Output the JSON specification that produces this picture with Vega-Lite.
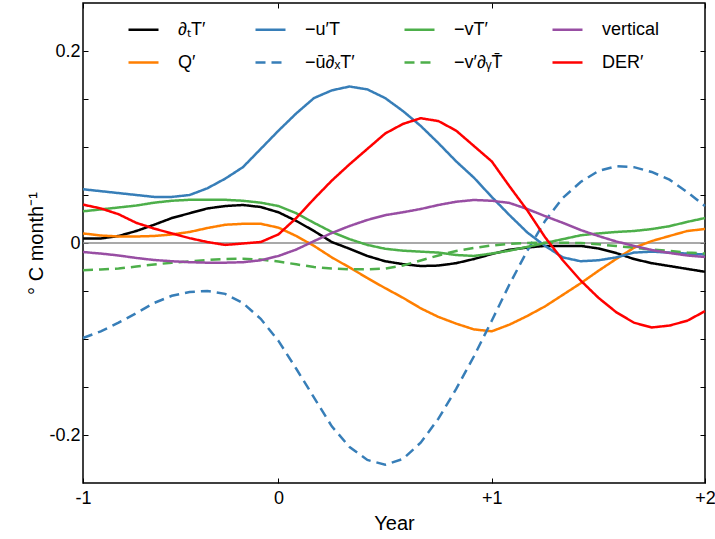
{
  "$schema": "https://vega.github.io/schema/vega-lite/v6.json",
  "width": 622,
  "height": 480,
  "autosize": {"type": "none"},
  "padding": {"left": 83, "top": 3, "right": 10, "bottom": 56},
  "background": "white",
  "config": {
    "font": "Liberation Sans",
    "view": {"stroke": "black", "strokeWidth": 1.5},
    "axis": {
      "domain": false, "grid": false, "tickColor": "black", "tickWidth": 1, "tickSize": -5,
      "labelColor": "black", "titleColor": "black", "labelFontSize": 18, "titleFontSize": 20,
      "titleFontWeight": "normal", "labelFont": "Liberation Sans", "titleFont": "Liberation Sans"
    },
    "legend": {
      "orient": "none", "legendX": 44, "legendY": 10, "columns": 4, "symbolType": "stroke",
      "symbolSize": 900, "symbolStrokeWidth": 2.5, "labelFontSize": 18, "labelFont": "Liberation Sans",
      "labelColor": "black", "labelOffset": 18, "columnPadding": 44, "rowPadding": 7, "padding": 0,
      "title": null, "labelLimit": 200
    }
  },
  "datasets": {
    "main": [
      {"m":-11,"s":"∂ₜT′","v":0.0047},{"m":-10,"s":"∂ₜT′","v":0.0047},{"m":-9,"s":"∂ₜT′","v":0.0073},{"m":-8,"s":"∂ₜT′","v":0.0125},{"m":-7,"s":"∂ₜT′","v":0.019},{"m":-6,"s":"∂ₜT′","v":0.026},{"m":-5,"s":"∂ₜT′","v":0.031},{"m":-4,"s":"∂ₜT′","v":0.036},{"m":-3,"s":"∂ₜT′","v":0.0385},{"m":-2,"s":"∂ₜT′","v":0.0396},{"m":-1,"s":"∂ₜT′","v":0.0375},{"m":0,"s":"∂ₜT′","v":0.032},{"m":1,"s":"∂ₜT′","v":0.023},{"m":2,"s":"∂ₜT′","v":0.0125},{"m":3,"s":"∂ₜT′","v":0.001},{"m":4,"s":"∂ₜT′","v":-0.006},{"m":5,"s":"∂ₜT′","v":-0.0135},{"m":6,"s":"∂ₜT′","v":-0.019},{"m":7,"s":"∂ₜT′","v":-0.022},{"m":8,"s":"∂ₜT′","v":-0.024},{"m":9,"s":"∂ₜT′","v":-0.0235},{"m":10,"s":"∂ₜT′","v":-0.021},{"m":11,"s":"∂ₜT′","v":-0.0167},{"m":12,"s":"∂ₜT′","v":-0.0115},{"m":13,"s":"∂ₜT′","v":-0.007},{"m":14,"s":"∂ₜT′","v":-0.0047},{"m":15,"s":"∂ₜT′","v":-0.003},{"m":16,"s":"∂ₜT′","v":-0.003},{"m":17,"s":"∂ₜT′","v":-0.003},{"m":18,"s":"∂ₜT′","v":-0.0057},{"m":19,"s":"∂ₜT′","v":-0.0104},{"m":20,"s":"∂ₜT′","v":-0.0167},{"m":21,"s":"∂ₜT′","v":-0.021},{"m":22,"s":"∂ₜT′","v":-0.024},{"m":23,"s":"∂ₜT′","v":-0.027},{"m":24,"s":"∂ₜT′","v":-0.03},
      {"m":-11,"s":"Q′","v":0.01},{"m":-10,"s":"Q′","v":0.0078},{"m":-9,"s":"Q′","v":0.0068},{"m":-8,"s":"Q′","v":0.0068},{"m":-7,"s":"Q′","v":0.0073},{"m":-6,"s":"Q′","v":0.0089},{"m":-5,"s":"Q′","v":0.0115},{"m":-4,"s":"Q′","v":0.0156},{"m":-3,"s":"Q′","v":0.019},{"m":-2,"s":"Q′","v":0.02},{"m":-1,"s":"Q′","v":0.02},{"m":0,"s":"Q′","v":0.016},{"m":1,"s":"Q′","v":0.0073},{"m":2,"s":"Q′","v":-0.003},{"m":3,"s":"Q′","v":-0.015},{"m":4,"s":"Q′","v":-0.0255},{"m":5,"s":"Q′","v":-0.0365},{"m":6,"s":"Q′","v":-0.047},{"m":7,"s":"Q′","v":-0.057},{"m":8,"s":"Q′","v":-0.068},{"m":9,"s":"Q′","v":-0.077},{"m":10,"s":"Q′","v":-0.084},{"m":11,"s":"Q′","v":-0.09},{"m":12,"s":"Q′","v":-0.092},{"m":13,"s":"Q′","v":-0.085},{"m":14,"s":"Q′","v":-0.076},{"m":15,"s":"Q′","v":-0.066},{"m":16,"s":"Q′","v":-0.054},{"m":17,"s":"Q′","v":-0.042},{"m":18,"s":"Q′","v":-0.029},{"m":19,"s":"Q′","v":-0.0167},{"m":20,"s":"Q′","v":-0.005},{"m":21,"s":"Q′","v":0.002},{"m":22,"s":"Q′","v":0.0073},{"m":23,"s":"Q′","v":0.0125},{"m":24,"s":"Q′","v":0.0146},
      {"m":-11,"s":"−u′T","v":0.056},{"m":-10,"s":"−u′T","v":0.054},{"m":-9,"s":"−u′T","v":0.052},{"m":-8,"s":"−u′T","v":0.05},{"m":-7,"s":"−u′T","v":0.048},{"m":-6,"s":"−u′T","v":0.048},{"m":-5,"s":"−u′T","v":0.05},{"m":-4,"s":"−u′T","v":0.057},{"m":-3,"s":"−u′T","v":0.067},{"m":-2,"s":"−u′T","v":0.079},{"m":-1,"s":"−u′T","v":0.098},{"m":0,"s":"−u′T","v":0.117},{"m":1,"s":"−u′T","v":0.135},{"m":2,"s":"−u′T","v":0.151},{"m":3,"s":"−u′T","v":0.159},{"m":4,"s":"−u′T","v":0.163},{"m":5,"s":"−u′T","v":0.16},{"m":6,"s":"−u′T","v":0.151},{"m":7,"s":"−u′T","v":0.1375},{"m":8,"s":"−u′T","v":0.122},{"m":9,"s":"−u′T","v":0.104},{"m":10,"s":"−u′T","v":0.085},{"m":11,"s":"−u′T","v":0.068},{"m":12,"s":"−u′T","v":0.048},{"m":13,"s":"−u′T","v":0.029},{"m":14,"s":"−u′T","v":0.011},{"m":15,"s":"−u′T","v":-0.003},{"m":16,"s":"−u′T","v":-0.015},{"m":17,"s":"−u′T","v":-0.019},{"m":18,"s":"−u′T","v":-0.018},{"m":19,"s":"−u′T","v":-0.015},{"m":20,"s":"−u′T","v":-0.01},{"m":21,"s":"−u′T","v":-0.009},{"m":22,"s":"−u′T","v":-0.01},{"m":23,"s":"−u′T","v":-0.011},{"m":24,"s":"−u′T","v":-0.012},
      {"m":-11,"s":"−ū∂ₓT′","v":-0.099},{"m":-10,"s":"−ū∂ₓT′","v":-0.092},{"m":-9,"s":"−ū∂ₓT′","v":-0.083},{"m":-8,"s":"−ū∂ₓT′","v":-0.073},{"m":-7,"s":"−ū∂ₓT′","v":-0.0625},{"m":-6,"s":"−ū∂ₓT′","v":-0.055},{"m":-5,"s":"−ū∂ₓT′","v":-0.051},{"m":-4,"s":"−ū∂ₓT′","v":-0.05},{"m":-3,"s":"−ū∂ₓT′","v":-0.053},{"m":-2,"s":"−ū∂ₓT′","v":-0.0625},{"m":-1,"s":"−ū∂ₓT′","v":-0.079},{"m":0,"s":"−ū∂ₓT′","v":-0.102},{"m":1,"s":"−ū∂ₓT′","v":-0.131},{"m":2,"s":"−ū∂ₓT′","v":-0.161},{"m":3,"s":"−ū∂ₓT′","v":-0.191},{"m":4,"s":"−ū∂ₓT′","v":-0.2125},{"m":5,"s":"−ū∂ₓT′","v":-0.226},{"m":6,"s":"−ū∂ₓT′","v":-0.231},{"m":7,"s":"−ū∂ₓT′","v":-0.225},{"m":8,"s":"−ū∂ₓT′","v":-0.208},{"m":9,"s":"−ū∂ₓT′","v":-0.183},{"m":10,"s":"−ū∂ₓT′","v":-0.152},{"m":11,"s":"−ū∂ₓT′","v":-0.118},{"m":12,"s":"−ū∂ₓT′","v":-0.081},{"m":13,"s":"−ū∂ₓT′","v":-0.043},{"m":14,"s":"−ū∂ₓT′","v":-0.008},{"m":15,"s":"−ū∂ₓT′","v":0.023},{"m":16,"s":"−ū∂ₓT′","v":0.047},{"m":17,"s":"−ū∂ₓT′","v":0.0635},{"m":18,"s":"−ū∂ₓT′","v":0.075},{"m":19,"s":"−ū∂ₓT′","v":0.08},{"m":20,"s":"−ū∂ₓT′","v":0.079},{"m":21,"s":"−ū∂ₓT′","v":0.074},{"m":22,"s":"−ū∂ₓT′","v":0.066},{"m":23,"s":"−ū∂ₓT′","v":0.053},{"m":24,"s":"−ū∂ₓT′","v":0.0385},
      {"m":-11,"s":"−vT′","v":0.033},{"m":-10,"s":"−vT′","v":0.035},{"m":-9,"s":"−vT′","v":0.037},{"m":-8,"s":"−vT′","v":0.039},{"m":-7,"s":"−vT′","v":0.042},{"m":-6,"s":"−vT′","v":0.044},{"m":-5,"s":"−vT′","v":0.045},{"m":-4,"s":"−vT′","v":0.045},{"m":-3,"s":"−vT′","v":0.045},{"m":-2,"s":"−vT′","v":0.044},{"m":-1,"s":"−vT′","v":0.042},{"m":0,"s":"−vT′","v":0.0385},{"m":1,"s":"−vT′","v":0.031},{"m":2,"s":"−vT′","v":0.021},{"m":3,"s":"−vT′","v":0.0115},{"m":4,"s":"−vT′","v":0.004},{"m":5,"s":"−vT′","v":-0.002},{"m":6,"s":"−vT′","v":-0.006},{"m":7,"s":"−vT′","v":-0.008},{"m":8,"s":"−vT′","v":-0.009},{"m":9,"s":"−vT′","v":-0.01},{"m":10,"s":"−vT′","v":-0.0125},{"m":11,"s":"−vT′","v":-0.0135},{"m":12,"s":"−vT′","v":-0.011},{"m":13,"s":"−vT′","v":-0.008},{"m":14,"s":"−vT′","v":-0.004},{"m":15,"s":"−vT′","v":0.0},{"m":16,"s":"−vT′","v":0.004},{"m":17,"s":"−vT′","v":0.008},{"m":18,"s":"−vT′","v":0.01},{"m":19,"s":"−vT′","v":0.0115},{"m":20,"s":"−vT′","v":0.0125},{"m":21,"s":"−vT′","v":0.0145},{"m":22,"s":"−vT′","v":0.0175},{"m":23,"s":"−vT′","v":0.022},{"m":24,"s":"−vT′","v":0.026},
      {"m":-11,"s":"−v′∂ᵧT̄","v":-0.0284},{"m":-10,"s":"−v′∂ᵧT̄","v":-0.0276},{"m":-9,"s":"−v′∂ᵧT̄","v":-0.0266},{"m":-8,"s":"−v′∂ᵧT̄","v":-0.0245},{"m":-7,"s":"−v′∂ᵧT̄","v":-0.0224},{"m":-6,"s":"−v′∂ᵧT̄","v":-0.0205},{"m":-5,"s":"−v′∂ᵧT̄","v":-0.0193},{"m":-4,"s":"−v′∂ᵧT̄","v":-0.0177},{"m":-3,"s":"−v′∂ᵧT̄","v":-0.0167},{"m":-2,"s":"−v′∂ᵧT̄","v":-0.0164},{"m":-1,"s":"−v′∂ᵧT̄","v":-0.0172},{"m":0,"s":"−v′∂ᵧT̄","v":-0.0193},{"m":1,"s":"−v′∂ᵧT̄","v":-0.0222},{"m":2,"s":"−v′∂ᵧT̄","v":-0.025},{"m":3,"s":"−v′∂ᵧT̄","v":-0.0266},{"m":4,"s":"−v′∂ᵧT̄","v":-0.0274},{"m":5,"s":"−v′∂ᵧT̄","v":-0.0274},{"m":6,"s":"−v′∂ᵧT̄","v":-0.0266},{"m":7,"s":"−v′∂ᵧT̄","v":-0.0234},{"m":8,"s":"−v′∂ᵧT̄","v":-0.0182},{"m":9,"s":"−v′∂ᵧT̄","v":-0.013},{"m":10,"s":"−v′∂ᵧT̄","v":-0.0083},{"m":11,"s":"−v′∂ᵧT̄","v":-0.0052},{"m":12,"s":"−v′∂ᵧT̄","v":-0.0026},{"m":13,"s":"−v′∂ᵧT̄","v":-0.001},{"m":14,"s":"−v′∂ᵧT̄","v":0.0},{"m":15,"s":"−v′∂ᵧT̄","v":0.0003},{"m":16,"s":"−v′∂ᵧT̄","v":0.0003},{"m":17,"s":"−v′∂ᵧT̄","v":0.0},{"m":18,"s":"−v′∂ᵧT̄","v":-0.0014},{"m":19,"s":"−v′∂ᵧT̄","v":-0.0031},{"m":20,"s":"−v′∂ᵧT̄","v":-0.0049},{"m":21,"s":"−v′∂ᵧT̄","v":-0.0068},{"m":22,"s":"−v′∂ᵧT̄","v":-0.0083},{"m":23,"s":"−v′∂ᵧT̄","v":-0.0099},{"m":24,"s":"−v′∂ᵧT̄","v":-0.011},
      {"m":-11,"s":"vertical","v":-0.0094},{"m":-10,"s":"vertical","v":-0.011},{"m":-9,"s":"vertical","v":-0.013},{"m":-8,"s":"vertical","v":-0.0156},{"m":-7,"s":"vertical","v":-0.0177},{"m":-6,"s":"vertical","v":-0.019},{"m":-5,"s":"vertical","v":-0.02},{"m":-4,"s":"vertical","v":-0.0205},{"m":-3,"s":"vertical","v":-0.0205},{"m":-2,"s":"vertical","v":-0.02},{"m":-1,"s":"vertical","v":-0.018},{"m":0,"s":"vertical","v":-0.0135},{"m":1,"s":"vertical","v":-0.0068},{"m":2,"s":"vertical","v":0.002},{"m":3,"s":"vertical","v":0.0104},{"m":4,"s":"vertical","v":0.0177},{"m":5,"s":"vertical","v":0.024},{"m":6,"s":"vertical","v":0.029},{"m":7,"s":"vertical","v":0.032},{"m":8,"s":"vertical","v":0.0354},{"m":9,"s":"vertical","v":0.0396},{"m":10,"s":"vertical","v":0.043},{"m":11,"s":"vertical","v":0.0448},{"m":12,"s":"vertical","v":0.044},{"m":13,"s":"vertical","v":0.0417},{"m":14,"s":"vertical","v":0.0354},{"m":15,"s":"vertical","v":0.028},{"m":16,"s":"vertical","v":0.021},{"m":17,"s":"vertical","v":0.0135},{"m":18,"s":"vertical","v":0.0073},{"m":19,"s":"vertical","v":0.0016},{"m":20,"s":"vertical","v":-0.003},{"m":21,"s":"vertical","v":-0.0073},{"m":22,"s":"vertical","v":-0.0104},{"m":23,"s":"vertical","v":-0.013},{"m":24,"s":"vertical","v":-0.0146},
      {"m":-11,"s":"DER′","v":0.04},{"m":-10,"s":"DER′","v":0.036},{"m":-9,"s":"DER′","v":0.03},{"m":-8,"s":"DER′","v":0.021},{"m":-7,"s":"DER′","v":0.015},{"m":-6,"s":"DER′","v":0.01},{"m":-5,"s":"DER′","v":0.005},{"m":-4,"s":"DER′","v":0.001},{"m":-3,"s":"DER′","v":-0.002},{"m":-2,"s":"DER′","v":-0.0005},{"m":-1,"s":"DER′","v":0.001},{"m":0,"s":"DER′","v":0.009},{"m":1,"s":"DER′","v":0.026},{"m":2,"s":"DER′","v":0.046},{"m":3,"s":"DER′","v":0.065},{"m":4,"s":"DER′","v":0.082},{"m":5,"s":"DER′","v":0.098},{"m":6,"s":"DER′","v":0.114},{"m":7,"s":"DER′","v":0.124},{"m":8,"s":"DER′","v":0.13},{"m":9,"s":"DER′","v":0.127},{"m":10,"s":"DER′","v":0.117},{"m":11,"s":"DER′","v":0.101},{"m":12,"s":"DER′","v":0.085},{"m":13,"s":"DER′","v":0.059},{"m":14,"s":"DER′","v":0.034},{"m":15,"s":"DER′","v":0.006},{"m":16,"s":"DER′","v":-0.018},{"m":17,"s":"DER′","v":-0.039},{"m":18,"s":"DER′","v":-0.057},{"m":19,"s":"DER′","v":-0.072},{"m":20,"s":"DER′","v":-0.083},{"m":21,"s":"DER′","v":-0.088},{"m":22,"s":"DER′","v":-0.086},{"m":23,"s":"DER′","v":-0.081},{"m":24,"s":"DER′","v":-0.071}
    ]
  },
  "layer": [
    {
      "data": {"values": [{"z": 0}]},
      "mark": {"type": "rule", "color": "#8c8c8c", "strokeWidth": 1.5},
      "encoding": {
        "y": {"field": "z", "type": "quantitative", "scale": {"domain": [-0.25, 0.25], "nice": false, "zero": false},
              "axis": {"orient": "right", "values": [-0.2, -0.15, -0.1, -0.05, 0, 0.05, 0.1, 0.15, 0.2], "labels": false, "title": null}}
      }
    },
    {
      "data": {"name": "main"},
      "mark": {"type": "line", "strokeWidth": 2.5},
      "encoding": {
        "x": {"field": "m", "type": "quantitative", "scale": {"domain": [-11, 24], "nice": false, "zero": false},
              "axis": {"orient": "bottom", "values": [-11, 0, 12, 24], "labelExpr": "datum.value == -11 ? '-1' : datum.value == 0 ? '0' : datum.value == 12 ? '+1' : '+2'", "labelPadding": 11, "title": "Year", "titlePadding": 6, "labelFlush": false}},
        "y": {"field": "v", "type": "quantitative",
              "axis": {"orient": "left", "values": [-0.2, -0.15, -0.1, -0.05, 0, 0.05, 0.1, 0.15, 0.2], "labelExpr": "abs(datum.value - 0.2) < 1e-6 ? '0.2' : abs(datum.value) < 1e-6 ? '0' : abs(datum.value + 0.2) < 1e-6 ? '-0.2' : ''", "labelPadding": 8, "title": "° C month⁻¹", "titlePadding": 2}},
        "color": {"field": "s", "type": "nominal",
                  "scale": {"domain": ["∂ₜT′", "Q′", "−u′T", "−ū∂ₓT′", "−vT′", "−v′∂ᵧT̄", "vertical", "DER′"],
                            "range": ["#000000", "#ff7f00", "#377eb8", "#377eb8", "#4daf4a", "#4daf4a", "#984ea3", "#ff0000"]}},
        "strokeDash": {"field": "s", "type": "nominal",
                       "scale": {"domain": ["∂ₜT′", "Q′", "−u′T", "−ū∂ₓT′", "−vT′", "−v′∂ᵧT̄", "vertical", "DER′"],
                                 "range": [[1, 0], [1, 0], [1, 0], [10, 6], [1, 0], [10, 6], [1, 0], [1, 0]]}}
      }
    },
    {
      "data": {"name": "main"},
      "mark": {"type": "line", "opacity": 0},
      "encoding": {
        "x": {"field": "m", "type": "quantitative",
              "axis": {"orient": "top", "values": [-11, 0, 12, 24], "labels": false, "title": null}},
        "y": {"field": "v", "type": "quantitative", "axis": null},
        "detail": {"field": "s"}
      }
    }
  ],
  "resolve": {"axis": {"x": "independent", "y": "independent"}}
}
